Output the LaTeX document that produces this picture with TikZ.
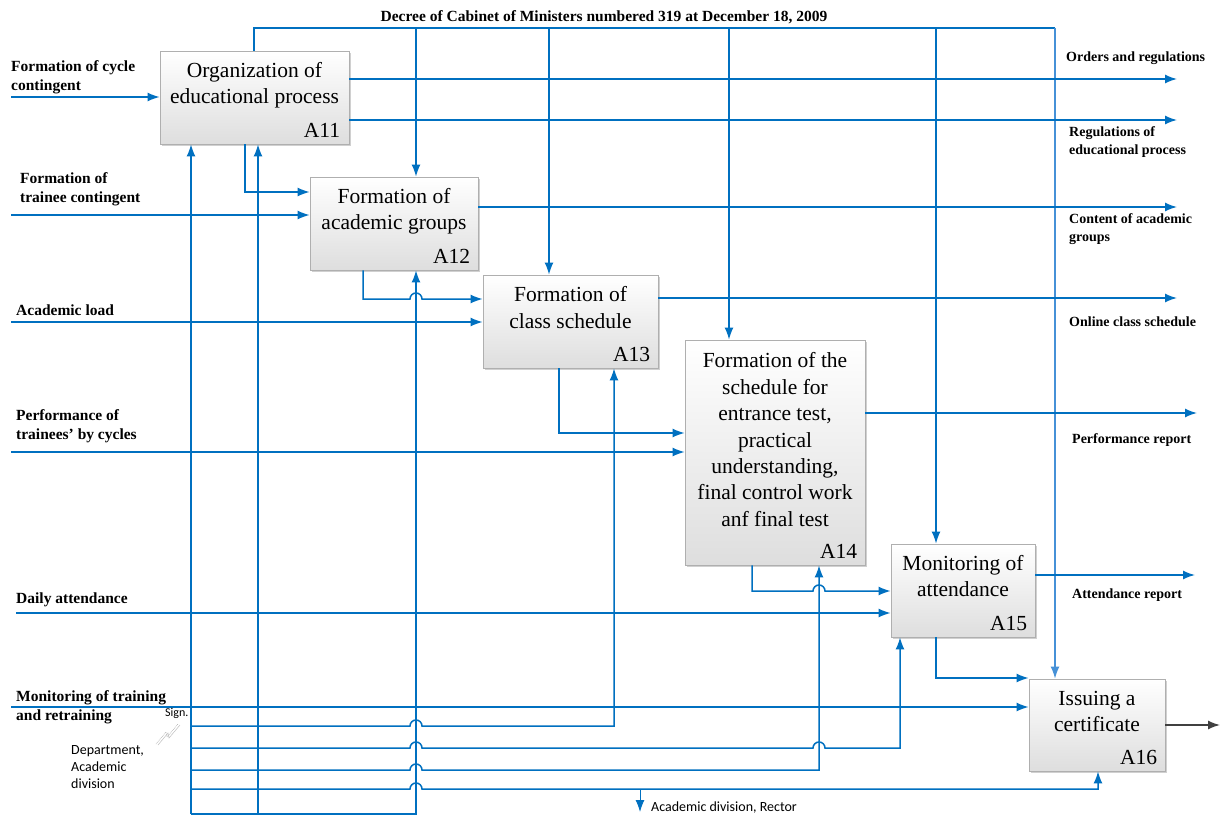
\documentclass[tikz,border=0pt]{standalone}
\usepackage{fontspec}
\setmainfont{Liberation Serif}
\newfontfamily\carl{Carlito}
\usetikzlibrary{arrows.meta,shadows,calc}
\definecolor{lnblue}{RGB}{0,112,192}
\definecolor{lnlight}{RGB}{70,145,215}
\definecolor{boxedge}{RGB}{175,175,175}
\definecolor{outdark}{RGB}{64,64,64}
\begin{document}
\begin{tikzpicture}[x=1pt,y=-1pt,
  fn/.style={draw=boxedge, line width=0.8pt, top color=white, bottom color=black!13,
    drop shadow={shadow xshift=2pt,shadow yshift=-2pt,fill=black!30,opacity=0.6}, inner sep=0pt},
  ttl/.style={anchor=north, align=center, font=\fontsize{21.5}{26.4}\selectfont, inner sep=0pt},
  fid/.style={anchor=base east, font=\fontsize{21.5}{26}\selectfont, inner sep=0pt},
  flow/.style={draw=lnblue, line width=1.5pt},
  arr/.style={flow, -{Latex[length=12pt,width=9pt]}},
  lab/.style={font=\bfseries\fontsize{15.5}{19}\selectfont, align=left, inner sep=0pt, anchor=north west},
  rlab/.style={font=\bfseries\fontsize{14}{18}\selectfont, align=left, inner sep=0pt, anchor=north west},
  slab/.style={font=\carl\fontsize{14}{17}\selectfont, align=left, inner sep=0pt, anchor=north west},
]
\useasboundingbox (0,0) rectangle (1221,816);
\fill[white] (0,0) rectangle (1221,816);

% ---------- function boxes ----------
\node[fn, minimum width=189pt, minimum height=93pt] (A11) at (254.5,97.5) {};
\node[fn, minimum width=168pt, minimum height=93pt] (A12) at (394,223.5) {};
\node[fn, minimum width=175pt, minimum height=93pt] (A13) at (570.5,321.5) {};
\node[fn, minimum width=180pt, minimum height=225pt] (A14) at (775,452.5) {};
\node[fn, minimum width=144pt, minimum height=93pt] (A15) at (963,590.5) {};
\node[fn, minimum width=136pt, minimum height=92pt] (A16) at (1097,725) {};

\node[ttl] (t11) at ($(A11.north)+(0,11.5)$) {Organization of\\educational process};
\node[ttl] (t12) at ($(A12.north)+(0,11.5)$) {Formation of\\academic groups};
\node[ttl] (t13) at ($(A13.north)+(0,12)$) {Formation of\\class schedule};
\node[ttl] (t14) at ($(A14.north)+(0,13)$) {Formation of the\\schedule for\\entrance test,\\practical\\understanding,\\final control work\\anf final test};
\node[ttl] (t15) at ($(A15.north)+(0,11.5)$) {Monitoring of\\attendance};
\node[ttl] (t16) at ($(A16.north)+(0,12)$) {Issuing a\\certificate};

\node[fid] (i11) at ($(A11.south east)+(-9,-7)$) {A11};
\node[fid] (i12) at ($(A12.south east)+(-8,-7)$) {A12};
\node[fid] (i13) at ($(A13.south east)+(-8,-7)$) {A13};
\node[fid] (i14) at ($(A14.south east)+(-8,-7)$) {A14};
\node[fid] (i15) at ($(A15.south east)+(-8,-7)$) {A15};
\node[fid] (i16) at ($(A16.south east)+(-8,-7)$) {A16};

% ---------- control ----------
\node[lab, anchor=north] (dec) at (604,10) {Decree of Cabinet of Ministers numbered 319 at December 18, 2009};
\coordinate (bus) at (0,28);
\draw[flow] (254,0 |- A11.north) -- (254,0 |- bus) -- (1055,0 |- bus);
\draw[arr] (416,0 |- bus) -- (416,0 |- A12.north);
\draw[arr] (549,0 |- bus) -- (549,0 |- A13.north);
\draw[arr] (729,0 |- bus) -- (729,0 |- A14.north);
\draw[arr] (936,0 |- bus) -- (936,0 |- A15.north);
\draw[arr, draw=lnlight] (1055,0 |- bus) -- (1055,0 |- A16.north);

% ---------- inputs ----------
\node[lab] (in1) at (11,60) {Formation of cycle\\contingent};
\node[lab] (in2) at (20,172) {Formation of\\trainee contingent};
\node[lab] (in3) at (16,305) {Academic load};
\node[lab] (in4) at (16,409) {Performance of\\trainees’ by cycles};
\node[lab] (in5) at (16,593) {Daily attendance};
\node[lab] (in6) at (16,690) {Monitoring of training\\and retraining};

\coordinate (s1) at (11,97);
\coordinate (s2) at (11,215);
\coordinate (s3) at (11,322);
\coordinate (s4) at (11,452);
\coordinate (s5) at (16,613);
\coordinate (s6) at (11,707);
\draw[arr] (s1) -- (A11.west |- s1);
\draw[arr] (s2) -- (A12.west |- s2);
\draw[arr] (s3) -- (A13.west |- s3);
\draw[arr] (s4) -- (A14.west |- s4);
\draw[arr] (s5) -- (A15.west |- s5);
\draw[arr] (s6) -- (A16.west |- s6);

% ---------- outputs ----------
\draw[arr] (A11.east |- 0,79) -- (1177,79);
\draw[arr] (A11.east |- 0,120) -- (1177,120);
\draw[arr] (A12.east |- 0,207) -- (1177,207);
\draw[arr] (A13.east |- 0,298) -- (1177,298);
\draw[arr] (A14.east |- 0,413) -- (1197,413);
\draw[arr] (A15.east |- 0,575) -- (1195,575);
\draw[draw=outdark, line width=1.5pt, -{Latex[length=12pt,width=9pt]}] (A16.east) -- (1220,0 |- A16.east);

\node[rlab] (o1) at (1066,52) {Orders and regulations};
\node[rlab] (o2) at (1069,126) {Regulations of\\educational process};
\node[rlab] (o3) at (1069,213) {Content of academic\\groups};
\node[rlab] (o4) at (1069,317) {Online class schedule};
\node[rlab] (o5) at (1072,433) {Performance report};
\node[rlab] (o6) at (1072,589) {Attendance report};

% ---------- internal flows ----------
\draw[arr] (245,0 |- A11.south) -- (245,192) -- (A12.west |- 0,192);
\draw[arr] (363,0 |- A12.south) -- (363,299) -- (410,299) arc[start angle=180,end angle=0,radius=6pt] -- (A13.west |- 0,299);
\draw[arr] (559,0 |- A13.south) -- (559,433) -- (A14.west |- 0,433);
\draw[arr] (752,0 |- A14.south) -- (752,591) -- (813,591) arc[start angle=180,end angle=0,radius=6pt] -- (A15.west |- 0,591);
\draw[arr] (936,0 |- A15.south) -- (936,678) -- (A16.west |- 0,678);

% ---------- mechanisms ----------
\coordinate (mb) at (191,814);
\draw[arr] (mb) -- (191,0 |- A11.south);
\draw[arr] (258,814) -- (258,0 |- A11.south);
\draw[arr] (mb) -- (416,814) -- (416,0 |- A12.south);
\draw[arr] (191,726) -- (410,726) arc[start angle=180,end angle=0,radius=6pt] -- (614,726) -- (614,0 |- A13.south);
\draw[arr] (191,748) -- (410,748) arc[start angle=180,end angle=0,radius=6pt] -- (813,748) arc[start angle=180,end angle=0,radius=6pt] -- (900,748) -- (900,0 |- A15.south);
\draw[arr] (191,770) -- (410,770) arc[start angle=180,end angle=0,radius=6pt] -- (819,770) -- (819,0 |- A14.south);
\draw[arr] (191,789) -- (410,789) arc[start angle=180,end angle=0,radius=6pt] -- (1098,789) -- (1098,0 |- A16.south);
\coordinate (rk) at (640,812);
\draw[arr, line width=1pt] (640,789) -- (rk);
\node[slab, anchor=west] (rector) at (651,808) {Academic division, Rector};

\node[slab, font=\carl\fontsize{12}{14}\selectfont, anchor=west] (sign) at (165,713) {Sign.};
\node[slab] (dept) at (71,745) {Department,\\Academic\\division};
\draw[gray!70, line width=0.6pt, densely dotted] (156,744) -- (166,732) -- (167,737) -- (178,724);
\draw[gray!50, line width=0.5pt] (158,745) -- (168,733) -- (169,738) -- (180,725);
\end{tikzpicture}
\end{document}
